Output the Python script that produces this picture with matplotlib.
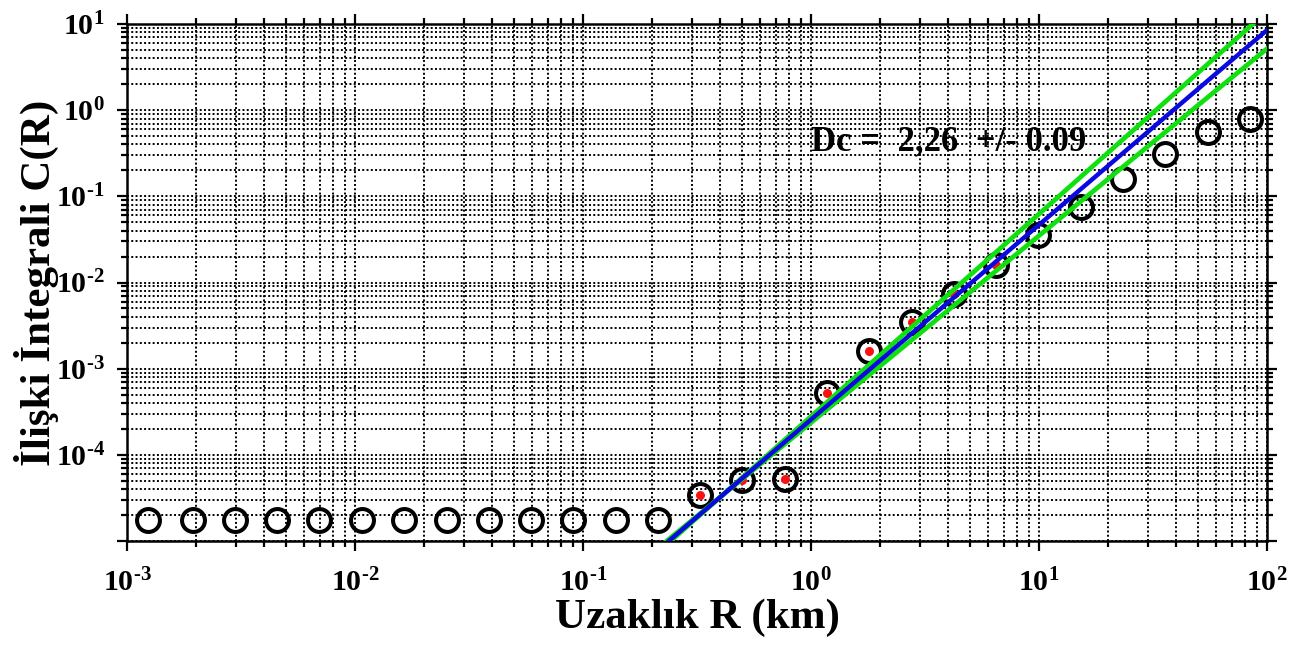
import matplotlib.pyplot as plt
import numpy as np
from matplotlib.ticker import FixedLocator, LogLocator, NullFormatter

plt.rcParams['font.family'] = ['Liberation Serif', 'DejaVu Serif']
plt.rcParams['mathtext.fontset'] = 'custom'
plt.rcParams['mathtext.rm'] = 'Liberation Serif:bold'
plt.rcParams['mathtext.bf'] = 'Liberation Serif:bold'
plt.rcParams['mathtext.it'] = 'Liberation Serif:bold'

# distance R (km) and correlation integral C(R)
R = [0.00124, 0.00195, 0.00298, 0.00455, 0.00695, 0.0107, 0.0164, 0.0254,
     0.0387, 0.0592, 0.0904, 0.140, 0.213, 0.326, 0.498, 0.769, 1.175, 1.80,
     2.77, 4.24, 6.47, 9.90, 15.3, 23.3, 35.7, 55.1, 84.2]
C = [1.75e-5, 1.75e-5, 1.75e-5, 1.75e-5, 1.75e-5, 1.75e-5, 1.75e-5, 1.75e-5,
     1.75e-5, 1.75e-5, 1.75e-5, 1.75e-5, 1.75e-5, 3.43e-5, 5.1e-5, 5.2e-5,
     5.26e-4, 1.62e-3, 3.52e-3, 7.45e-3, 1.58e-2, 3.52e-2, 7.45e-2, 0.158,
     0.308, 0.555, 0.785]
# points used in the fit
fit_first, fit_last = 13, 20

# fit result: C = C0 * (R / R0) ** Dc
Dc = 2.26
Dc_err = 0.09
R0 = 0.398
C0 = 3.2e-5

fig = plt.figure(figsize=(12.96, 6.48), dpi=100)
ax = fig.add_axes([127 / 1296, 1 - 541 / 648, 1140 / 1296, 517 / 648])
ax.set_xscale('log')
ax.set_yscale('log')
ax.set_xlim(1e-3, 1e2)
ax.set_ylim(1e-5, 1e1)

ax.plot(R, C, 'o', ms=16.5, mfc='none', mec='black', mew=2.9, zorder=3)
ax.plot(R[fit_first:fit_last + 1], C[fit_first:fit_last + 1], 'o', ms=6.5,
        color='#ff1010', mec='none', zorder=4)

rr = np.array([0.2, 100.0])
ax.plot(rr, C0 * (rr / R0) ** (Dc + Dc_err), color='#10e010', lw=3.4, zorder=5)
ax.plot(rr, C0 * (rr / R0) ** (Dc - Dc_err), color='#10e010', lw=3.4, zorder=5)
ax.plot(rr, C0 * (rr / R0) ** Dc, color='#0a0ae0', lw=3.2, zorder=6)

ax.text(1.0, 0.34, 'Dc =  2,26  +/- 0.09', fontsize=25, fontweight='bold',
        ha='left', va='baseline', zorder=7)

xmaj = [1e-3, 1e-2, 1e-1, 1e0, 1e1, 1e2]
xlab = [r'$10^{\text{-3}}$', r'$10^{\text{-2}}$', r'$10^{\text{-1}}$',
        r'$10^{\text{0}}$', r'$10^{\text{1}}$', r'$10^{\text{2}}$']
ymaj = [1e-5, 1e-4, 1e-3, 1e-2, 1e-1, 1e0, 1e1]
ylab = ['', r'$10^{\text{-4}}$', r'$10^{\text{-3}}$', r'$10^{\text{-2}}$',
        r'$10^{\text{-1}}$', r'$10^{\text{0}}$', r'$10^{\text{1}}$']

ax.xaxis.set_major_locator(FixedLocator(xmaj))
ax.yaxis.set_major_locator(FixedLocator(ymaj))
ax.xaxis.set_minor_locator(LogLocator(base=10, subs=np.arange(2, 10), numticks=20))
ax.yaxis.set_minor_locator(LogLocator(base=10, subs=np.arange(2, 10), numticks=20))
ax.xaxis.set_minor_formatter(NullFormatter())
ax.yaxis.set_minor_formatter(NullFormatter())
ax.set_xticklabels(xlab, fontsize=21.5)
ax.set_yticklabels(ylab, fontsize=21.5)

ax.tick_params(which='both', direction='out', top=True, right=True, width=1.6, color='black')
ax.tick_params(which='major', length=7)
ax.tick_params(which='minor', length=4)
ax.tick_params(axis='x', which='major', pad=13)
ax.tick_params(axis='y', which='major', pad=9)

ax.set_axisbelow(True)
ax.grid(True, which='both', color='black', linestyle=(0, (1, 1.2)), lw=1.4)
for s in ax.spines.values():
    s.set_linewidth(1.8)

ax.set_xlabel('Uzaklık R (km)', fontsize=31, fontweight='bold', labelpad=1)
ax.set_ylabel('İlişki İntegrali C(R)', fontsize=31, fontweight='bold')
ax.yaxis.set_label_coords(-0.06, 0.5)

plt.savefig('out.png', dpi=100)
